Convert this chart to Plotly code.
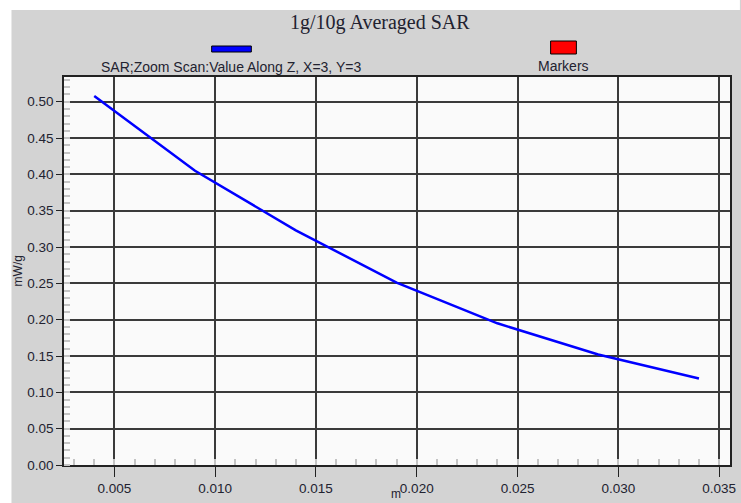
import plotly.graph_objects as go

# ---- data ----
depth_m = [0.004, 0.009, 0.014, 0.019, 0.024, 0.029, 0.034]
sar_mw_g = [0.508, 0.405, 0.323, 0.251, 0.195, 0.152, 0.119]
series_names = ["SAR;Zoom Scan:Value Along Z, X=3, Y=3", "Markers"]
series_colors = ["#0000ff", "#ff0000"]
chart_title = "1g/10g Averaged SAR"
x_title = "m"
y_title = "mW/g"

W, H = 741, 503
# plot area in page pixels
P_L, P_R, P_T, P_B = 64, 736, 77, 465
L, R, T, B = P_L, W - P_R, P_T, H - P_B
PW, PH = W - L - R, H - T - B


def px(x):  # page pixel x -> paper coord
    return (x - P_L) / PW


def py(y):  # page pixel y -> paper coord
    return (P_B - y) / PH


GREY = "#d3d3d3"
TXT = "#222230"

fig = go.Figure()
fig.add_trace(go.Scatter(x=depth_m, y=sar_mw_g, mode="lines", name=series_names[0],
                         line=dict(color=series_colors[0], width=2.5), showlegend=False))
fig.add_trace(go.Scatter(x=[], y=[], mode="markers", name=series_names[1],
                         marker=dict(color=series_colors[1]), showlegend=False))

shapes = [
    # white strips outside the grey panel
    dict(type="rect", xref="paper", yref="paper", x0=px(-5), x1=px(W + 5), y0=py(10), y1=py(-5),
         fillcolor="white", line=dict(width=0), layer="below"),
    dict(type="rect", xref="paper", yref="paper", x0=px(-5), x1=px(11), y0=py(H + 5), y1=py(-5),
         fillcolor="white", line=dict(width=0), layer="below"),
    # legend swatches
    dict(type="rect", xref="paper", yref="paper", x0=px(213), x1=px(253), y0=py(52), y1=py(46),
         fillcolor=series_colors[0], line=dict(color="black", width=1)),
    dict(type="rect", xref="paper", yref="paper", x0=px(555), x1=px(581), y0=py(54), y1=py(41),
         fillcolor=series_colors[1], line=dict(color="black", width=1)),
]

annotations = [
    dict(text=chart_title, xref="paper", yref="paper", x=px(383), y=py(22), showarrow=False,
         xanchor="center", yanchor="middle",
         font=dict(family="Liberation Serif, Times New Roman, serif", size=20, color=TXT)),
    dict(text=series_names[0], xref="paper", yref="paper", x=px(232), y=py(67), showarrow=False,
         xanchor="center", yanchor="middle",
         font=dict(family="Liberation Sans, Arial, sans-serif", size=14, color=TXT)),
    dict(text=series_names[1], xref="paper", yref="paper", x=px(568), y=py(66), showarrow=False,
         xanchor="center", yanchor="middle",
         font=dict(family="Liberation Sans, Arial, sans-serif", size=14, color=TXT)),
    dict(text=y_title, xref="paper", yref="paper", x=px(18), y=py(271), showarrow=False,
         xanchor="center", yanchor="middle", textangle=-90,
         font=dict(family="Liberation Sans, Arial, sans-serif", size=12, color=TXT)),
    dict(text=x_title, xref="paper", yref="paper", x=px(399), y=py(494), showarrow=False,
         xanchor="center", yanchor="middle",
         font=dict(family="Liberation Sans, Arial, sans-serif", size=12, color=TXT)),
]

axis_common = dict(
    showline=True, linecolor="#222", linewidth=1.5, mirror=True,
    showgrid=True, gridcolor="#3a3a3a", gridwidth=1.5, zeroline=False,
    ticks="outside", tickcolor="#222", tickwidth=1.2,
    tickfont=dict(family="Liberation Sans, Arial, sans-serif", size=13.5, color=TXT),
)

fig.update_xaxes(
    range=[0.0025, 0.03554], tick0=0, dtick=0.005, tickformat=".3f", ticklen=10,
    minor=dict(dtick=0.001, ticks="inside", ticklen=6, tickcolor="#c4c4c4", tickwidth=1.5, showgrid=False),
    **axis_common,
)
fig.update_yaxes(
    range=[0, 0.534], tick0=0, dtick=0.05, tickformat=".2f", ticklen=6,
    minor=dict(dtick=0.01, ticks="inside", ticklen=6, tickcolor="#c4c4c4", tickwidth=1.5, showgrid=False),
    **axis_common,
)

fig.update_layout(
    width=W, height=H,
    margin=dict(l=L, r=R, t=T, b=B, pad=0),
    paper_bgcolor=GREY, plot_bgcolor="#fafafa",
    shapes=shapes, annotations=annotations,
    showlegend=False,
)

fig.write_html(
    "out.html",
    config={"responsive": False, "displayModeBar": False},
    post_script="document.body.style.margin='0';document.body.style.overflow='hidden';",
)
